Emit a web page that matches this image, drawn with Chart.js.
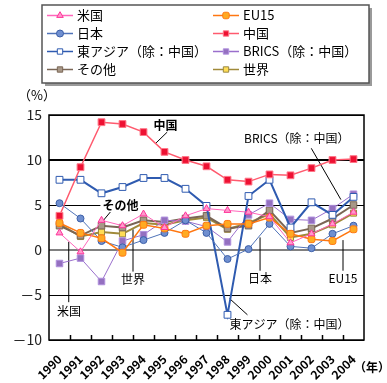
<!DOCTYPE html>
<html>
<head>
<meta charset="utf-8">
<script src="https://cdn.jsdelivr.net/npm/chart.js@4/dist/chart.umd.min.js"></script>
<style>
  html, body { margin: 0; padding: 0; background: #fff; }
  #wrap { width: 387px; height: 383px; }
</style>
</head>
<body>
<div id="wrap"><canvas id="c" width="387" height="383"></canvas></div>
<script>
// Real GDP growth rate by region (%), 1990-2004
const years = ['1990','1991','1992','1993','1994','1995','1996','1997','1998','1999','2000','2001','2002','2003','2004'];

const usa      = [1.9, -0.2, 3.3, 2.7, 4.0, 2.5, 3.8, 4.6, 4.4, 4.2, 3.7, 0.8, 1.8, 2.9, 4.2];
const eu15     = [3.0, 1.9, 1.3, -0.3, 2.8, 2.4, 1.8, 2.7, 2.9, 2.9, 3.6, 1.8, 1.2, 1.0, 2.3];
const japan    = [5.2, 3.5, 1.0, 0.3, 1.1, 1.9, 3.3, 1.9, -1.0, 0.1, 2.9, 0.4, 0.2, 1.8, 2.7];
const china    = [3.8, 9.2, 14.2, 14.0, 13.1, 10.9, 10.0, 9.3, 7.8, 7.6, 8.4, 8.3, 9.1, 10.0, 10.1];
const eastAsia = [7.8, 7.8, 6.3, 7.0, 8.0, 8.0, 6.8, 4.9, -7.2, 6.0, 7.8, 2.5, 5.3, 3.9, 5.9];
const brics    = [-1.5, -0.9, -3.5, 1.0, 1.7, 3.3, 3.2, 2.6, 0.9, 3.9, 5.2, 3.4, 3.3, 4.6, 6.2];
const others   = [2.7, 1.6, 2.7, 2.5, 3.3, 3.1, 3.5, 3.8, 2.4, 2.7, 4.4, 1.9, 2.4, 3.5, 5.0];
const world    = [2.9, 1.5, 2.0, 1.8, 3.0, 2.8, 3.3, 3.6, 2.3, 3.0, 4.0, 1.4, 1.8, 2.8, 4.1];

const yTicks = [-10, -5, 0, 5, 10, 15];

const FONT = '"Noto Sans CJK JP", "Noto Sans", sans-serif';

function series(label, data, line, fill, edge, style, radius, width) {
  return {
    label, data,
    borderColor: line,
    borderWidth: width,
    backgroundColor: fill,
    pointBackgroundColor: fill,
    pointBorderColor: edge,
    pointBorderWidth: 1,
    pointStyle: style,
    pointRadius: radius,
    tension: 0
  };
}

const datasets = [
  series('米国', usa, '#ff66bb', '#ff99cc', '#ff3399', 'triangle', 4, 1),
  series('EU15', eu15, '#ff7711', '#ffaa22', '#ff7711', 'rectRounded', 4, 1.5),
  series('日本', japan, '#4f73b8', '#6f8fd0', '#3c5fa8', 'circle', 3.5, 1),
  series('中国', china, '#ff5a6e', '#ee1133', '#ff7788', 'rect', 4.8, 1.5),
  series('東アジア（除：中国）', eastAsia, '#2f5bb0', '#ffffff', '#2f5bb0', 'rect', 4.8, 2),
  series('BRICS（除：中国）', brics, '#9a6fcc', '#9470c0', '#b090dd', 'rect', 4.6, 1),
  series('その他', others, '#7a6655', '#a89888', '#7a6655', 'rect', 4.6, 2),
  series('世界', world, '#a08a3a', '#ffdd55', '#998844', 'rect', 4.3, 2)
];

// Callout labels, anchored in (category index, value) units
const notes = [
  { text: '中国', at: [5.05, 13.8], line: [[5.13, 13.1], [4.6, 11.9]], bold: true },
  { text: 'その他', at: [2.9, 5.0], line: [[2.45, 4.3], [1.95, 2.9]], bold: true, bg: true },
  { text: '世界', at: [3.5, -3.3], line: [[3.5, 2.3], [3.5, -2.4]] },
  { text: '米国', at: [0.45, -6.8], line: [[0.44, 0.9], [0.44, -5.8]] },
  { text: '日本', at: [9.55, -3.2], line: [[9.55, 1.4], [9.55, -2.3]] },
  { text: 'EU15', at: [13.5, -3.2], line: [[13.5, 1.1], [13.5, -2.3]] },
  { text: '東アジア（除：中国）', at: [10.95, -8.3], line: [[8.1, -5.4], [8.95, -7.2]] },
  { text: 'BRICS（除：中国）', at: [11.3, 12.4], line: [[11.99, 11.3], [13.4, 5.6]] }
];

const framePlugin = {
  id: 'frame',
  beforeDatasetsDraw(chart) {
    const { ctx, chartArea: a, scales: { x, y } } = chart;
    ctx.save();
    // inner tick marks at category boundaries
    ctx.strokeStyle = '#000';
    ctx.lineWidth = 1.5;
    for (let i = 1; i < years.length; i++) {
      const px = Math.round((x.getPixelForValue(i - 1) + x.getPixelForValue(i)) / 2) + 0.5;
      ctx.beginPath();
      ctx.moveTo(px, a.bottom);
      ctx.lineTo(px, a.bottom - 5);
      ctx.stroke();
    }
    // callout leader lines
    ctx.lineWidth = 1;
    for (const n of notes) {
      const [p0, p1] = n.line;
      ctx.beginPath();
      ctx.moveTo(x.getPixelForValue(p0[0]), y.getPixelForValue(p0[1]));
      ctx.lineTo(x.getPixelForValue(p1[0]), y.getPixelForValue(p1[1]));
      ctx.stroke();
    }
    ctx.restore();
  },
  afterDatasetsDraw(chart) {
    const { ctx, chartArea: a, scales: { x, y } } = chart;
    ctx.save();
    // plot frame
    ctx.strokeStyle = '#000';
    ctx.lineWidth = 1.5;
    ctx.strokeRect(a.left, a.top, a.right - a.left, a.bottom - a.top);
    // callout texts
    ctx.textAlign = 'center';
    ctx.textBaseline = 'middle';
    for (const n of notes) {
      ctx.font = (n.bold ? '600 ' : '400 ') + '12px ' + FONT;
      const px = x.getPixelForValue(n.at[0]);
      const py = y.getPixelForValue(n.at[1]);
      if (n.bg) {
        const w = ctx.measureText(n.text).width;
        ctx.fillStyle = '#fff';
        ctx.fillRect(px - w / 2 - 2, py - 7, w + 4, 14);
      }
      ctx.fillStyle = '#000';
      ctx.fillText(n.text, px, py);
    }
    // axis titles
    ctx.font = '400 13px ' + FONT;
    ctx.textAlign = 'left';
    ctx.fillText('（%）', 18, 95);
    ctx.font = '600 12px ' + FONT;
    ctx.fillText('（年）', 354, 367);
    ctx.restore();
  },
  afterDraw(chart) {
    // two-column legend box with drop shadow
    const { ctx } = chart;
    const bx = 42, by = 5, bw = 327, bh = 78;
    ctx.save();
    ctx.fillStyle = '#9a9a9a';
    ctx.fillRect(bx + 3, by + 3, bw, bh);
    ctx.fillStyle = '#fff';
    ctx.fillRect(bx, by, bw, bh);
    ctx.strokeStyle = '#555';
    ctx.lineWidth = 1.5;
    ctx.strokeRect(bx, by, bw, bh);
    ctx.font = '400 13px ' + FONT;
    ctx.textBaseline = 'middle';
    ctx.textAlign = 'left';
    chart.data.datasets.forEach((ds, i) => {
      const col = i % 2, row = Math.floor(i / 2);
      const x0 = col ? 213 : 47;
      const yy = 15.5 + row * 18;
      ctx.strokeStyle = ds.borderColor;
      ctx.lineWidth = 1.5;
      ctx.beginPath();
      ctx.moveTo(x0, yy);
      ctx.lineTo(x0 + 26, yy);
      ctx.stroke();
      ctx.fillStyle = ds.pointBackgroundColor;
      ctx.strokeStyle = ds.pointBorderColor;
      ctx.lineWidth = 1;
      Chart.helpers.drawPoint(ctx, { pointStyle: ds.pointStyle, radius: Math.min(ds.pointRadius, 3.8), rotation: 0, borderWidth: 1 }, x0 + 13, yy);
      ctx.fillStyle = '#000';
      ctx.fillText(ds.label, x0 + 30, yy);
    });
    ctx.restore();
  }
};

new Chart(document.getElementById('c'), {
  type: 'line',
  data: { labels: years, datasets },
  options: {
    responsive: false,
    animation: false,
    layout: { padding: { top: 115, right: 23, left: 0, bottom: 0 } },
    plugins: { legend: { display: false }, tooltip: { enabled: false } },
    scales: {
      x: {
        type: 'category',
        offset: true,
        grid: { display: false },
        border: { display: false },
        ticks: {
          autoSkip: false, minRotation: 45, maxRotation: 45, padding: 4,
          color: '#000', font: { family: FONT, size: 12, weight: 'bold' }
        },
        afterFit(s) { s.height = 43; }
      },
      y: {
        min: -10, max: 15,
        afterBuildTicks(s) { s.ticks = yTicks.map(v => ({ value: v })); },
        grid: {
          drawTicks: false,
          color: c => c.tick && c.tick.value === 0 ? '#808080' : '#000',
          lineWidth: c => c.tick && (c.tick.value === 0 || c.tick.value === 10) ? 2 : 1
        },
        border: { display: false },
        ticks: {
          padding: 7, color: '#222',
          font: { family: FONT, size: 14 },
          callback: v => v < 0 ? '－' + Math.abs(v) : String(v)
        },
        afterFit(s) { s.width = 49; }
      }
    }
  },
  plugins: [framePlugin]
});
</script>
</body>
</html>
